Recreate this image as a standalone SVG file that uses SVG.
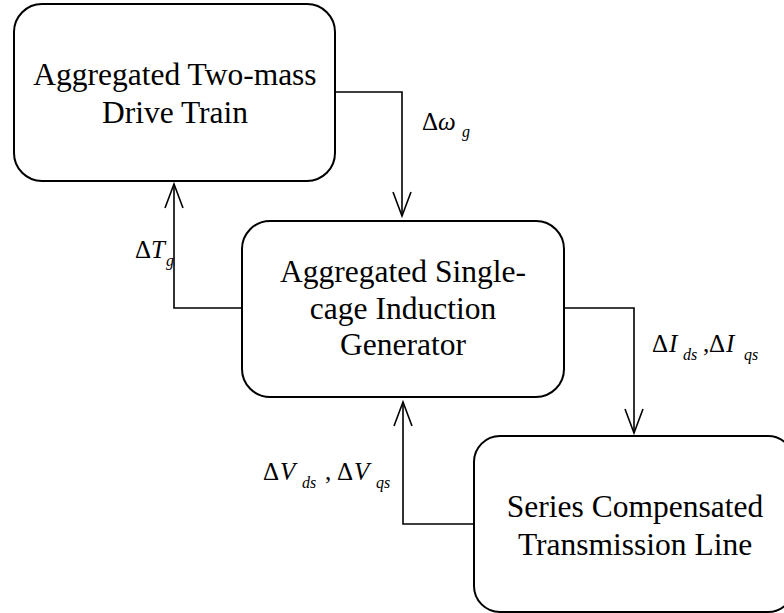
<svg xmlns="http://www.w3.org/2000/svg" width="784" height="613" viewBox="0 0 784 613">
<style>
.box{fill:#fff;stroke:#000;stroke-width:2}
.t{font-family:"Liberation Serif","Times New Roman",serif;font-size:31.5px;text-anchor:middle;fill:#000}
.lab{font-family:"Liberation Serif","Times New Roman",serif;font-size:25px;fill:#000}
.it{font-style:italic}
.sub{font-family:"Liberation Serif","Times New Roman",serif;font-size:16px;font-style:italic;fill:#000}
.c{fill:none;stroke:#000;stroke-width:1.6}
</style>
<defs>
<marker id="ah" markerUnits="userSpaceOnUse" markerWidth="30" markerHeight="24" viewBox="-26 -12 30 24" refX="0" refY="0" orient="auto">
<path d="M-24,-9 L0,0 L-24,9" fill="none" stroke="#000" stroke-width="1.6"/>
</marker>
</defs>
<g id="connectors">
<path class="c" d="M335,92 H402 V216" marker-end="url(#ah)"/>
<path class="c" d="M242,308 H174 V184" marker-end="url(#ah)"/>
<path class="c" d="M564,308 H634 V433" marker-end="url(#ah)"/>
<path class="c" d="M474,524 H403 V402" marker-end="url(#ah)"/>
</g>
<g id="drivetrain">
<rect class="box" x="14" y="4" width="321" height="177" rx="28" ry="28"/>
<text class="t" x="175" y="85">Aggregated Two-mass</text>
<text class="t" x="175" y="123">Drive Train</text>
</g>
<g id="generator">
<rect class="box" x="242" y="221" width="322" height="176" rx="28" ry="28"/>
<text class="t" x="403" y="282">Aggregated Single-</text>
<text class="t" x="403" y="319">cage Induction</text>
<text class="t" x="403" y="355">Generator</text>
</g>
<g id="transmission">
<rect class="box" x="474" y="436" width="320" height="176" rx="26" ry="26"/>
<text class="t" x="635" y="517">Series Compensated</text>
<text class="t" x="635" y="555">Transmission Line</text>
</g>
<g id="labels">
<text class="lab" x="422" y="130">Δ</text>
<text class="lab it" x="438" y="130">ω</text>
<text class="sub" x="462" y="137">g</text>
<text class="lab" x="135" y="258">Δ</text>
<text class="lab it" x="151" y="258">T</text>
<text class="sub" x="166" y="266">g</text>
<text class="lab" x="652" y="352">Δ</text>
<text class="lab it" x="669" y="352">I</text>
<text class="sub" x="683" y="360">ds</text>
<text class="lab" x="703" y="352">,</text>
<text class="lab" x="709" y="352">Δ</text>
<text class="lab it" x="726" y="352">I</text>
<text class="sub" x="744" y="360">qs</text>
<text class="lab" x="263" y="480">Δ</text>
<text class="lab it" x="280" y="480">V</text>
<text class="sub" x="302" y="488">ds</text>
<text class="lab" x="325" y="480">,</text>
<text class="lab" x="337" y="480">Δ</text>
<text class="lab it" x="354" y="480">V</text>
<text class="sub" x="376" y="488">qs</text>
</g>
</svg>
